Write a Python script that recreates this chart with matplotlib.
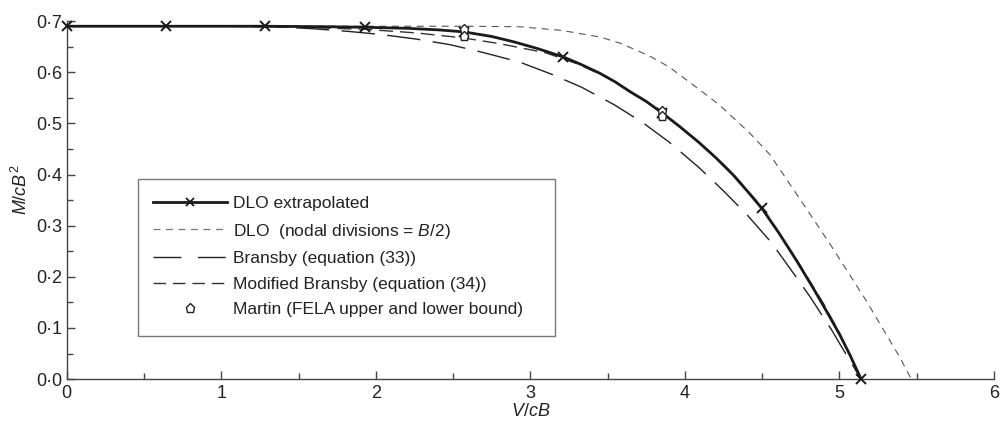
import matplotlib
matplotlib.use("Agg")
import matplotlib.pyplot as plt
from matplotlib.lines import Line2D
from matplotlib.patches import Rectangle
from matplotlib.ticker import MultipleLocator, FuncFormatter

plt.rcParams["font.family"] = ["Liberation Sans", "DejaVu Sans"]
plt.rcParams["mathtext.fontset"] = "custom"
plt.rcParams["mathtext.rm"] = "Liberation Sans"
plt.rcParams["mathtext.it"] = "Liberation Sans:italic"
plt.rcParams["lines.scale_dashes"] = False

# -----------------------------
# DATA
# -----------------------------
# DLO extrapolated: marker points
dlo_pts_v = [0.0, 0.643, 1.285, 1.928, 2.57, 3.213, 3.855, 4.498, 5.14]
dlo_pts_m = [0.690, 0.690, 0.690, 0.688, 0.679, 0.630, 0.520, 0.334, 0.0]

# DLO extrapolated: smooth curve
dlo_v = [0.0, 0.643, 1.285, 1.7, 1.928, 2.2, 2.4, 2.57, 2.75, 2.9, 3.05, 3.213,
         3.33, 3.45, 3.55, 3.64, 3.75, 3.855, 3.97, 4.09, 4.2, 4.31, 4.4,
         4.498, 4.61, 4.72, 4.83, 4.92, 5.0, 5.07, 5.14]
dlo_m = [0.690, 0.690, 0.690, 0.689, 0.688, 0.686, 0.683, 0.679, 0.670, 0.659,
         0.646, 0.630, 0.615, 0.598, 0.581, 0.563, 0.543, 0.520, 0.493, 0.463,
         0.433, 0.400, 0.369, 0.334, 0.285, 0.233, 0.178, 0.131, 0.088, 0.046,
         0.0]

# DLO (nodal divisions = B/2)
nodal_v = [0.0, 1.0, 2.0, 2.6, 2.93, 3.2, 3.45, 3.58, 3.77, 3.9, 4.09, 4.22,
           4.42, 4.55, 4.74, 4.8, 4.95, 5.17, 5.39, 5.465]
nodal_m = [0.690, 0.690, 0.690, 0.690, 0.689, 0.682, 0.669, 0.657, 0.632, 0.610,
           0.567, 0.537, 0.481, 0.439, 0.354, 0.327, 0.259, 0.155, 0.043, 0.0]

# Bransby (equation (33))
bransby_v = [0.0, 0.6, 1.0, 1.36, 1.6, 1.82, 2.03, 2.26, 2.48, 2.69, 2.93,
             3.13, 3.33, 3.54, 3.73, 3.9, 4.09, 4.25, 4.4, 4.56, 4.7, 4.81,
             4.95, 5.03, 5.14]
bransby_m = [0.690, 0.690, 0.690, 0.689, 0.685, 0.680, 0.674, 0.665, 0.654,
             0.639, 0.620, 0.597, 0.571, 0.537, 0.501, 0.463, 0.414, 0.368,
             0.322, 0.267, 0.208, 0.161, 0.096, 0.055, 0.0]

# Modified Bransby (equation (34))
mod_v = [0.0, 1.0, 1.5, 1.93, 2.26, 2.57, 2.8, 3.1, 3.3, 3.5, 3.7, 3.855,
         4.09, 4.31, 4.5, 4.72, 4.9, 5.0, 5.14]
mod_m = [0.690, 0.690, 0.688, 0.684, 0.677, 0.667, 0.656, 0.638, 0.617, 0.590,
         0.553, 0.520, 0.464, 0.402, 0.336, 0.235, 0.146, 0.090, 0.0]

# Martin (FELA upper and lower bound)
martin_v = [2.57, 2.57, 3.855, 3.855]
martin_m = [0.684, 0.670, 0.525, 0.514]

legend_labels = [
    "DLO extrapolated",
    "DLO  (nodal divisions = $B$/2)",
    "Bransby (equation (33))",
    "Modified Bransby (equation (34))",
    "Martin (FELA upper and lower bound)",
]

# -----------------------------
# STYLES
# -----------------------------
TEXT = "#222222"
AXIS = "#444444"
FS = 13
LEG_FS = 12.5
DASH_NODAL = (0, (5, 4))
DASH_BRANSBY = (0, (24, 9))
DASH_MOD = (0, (10, 5))


def fmt_dot(v, pos):
    return f"{v:.1f}".replace(".", "\u00b7")


fig = plt.figure(figsize=(10.02, 4.26), dpi=100)
ax = fig.add_axes([0.0666, 0.110, 0.9254, 0.8404])

ax.plot(nodal_v, nodal_m, color="#555555", lw=0.8, linestyle=DASH_NODAL)
ax.plot(bransby_v, bransby_m, color="#222222", lw=1.0, linestyle=DASH_BRANSBY)
ax.plot(mod_v, mod_m, color="#333333", lw=1.0, linestyle=DASH_MOD)
ax.plot(dlo_v, dlo_m, color="#1a1a1a", lw=2.0, solid_capstyle="butt")
ax.plot(dlo_pts_v, dlo_pts_m, linestyle="none", marker="x", ms=7, mew=1.4,
        color="#1a1a1a", clip_on=False, zorder=4)
ax.plot(martin_v, martin_m, linestyle="none", marker="p", ms=6.5, mew=1.0,
        mfc="white", mec="#222222", clip_on=False, zorder=5)

ax.set_xlim(0, 6)
ax.set_ylim(0, 0.7)
ax.xaxis.set_major_locator(MultipleLocator(1))
ax.xaxis.set_minor_locator(MultipleLocator(0.5))
ax.yaxis.set_major_locator(MultipleLocator(0.1))
ax.yaxis.set_minor_locator(MultipleLocator(0.05))
ax.yaxis.set_major_formatter(FuncFormatter(fmt_dot))

for s in ["top", "right"]:
    ax.spines[s].set_visible(False)
for s in ["left", "bottom"]:
    ax.spines[s].set_color(AXIS)
    ax.spines[s].set_linewidth(1.0)

ax.tick_params(which="both", direction="in", colors=AXIS, labelcolor=TEXT,
               labelsize=FS)
ax.tick_params(which="major", length=6, width=1.0)
ax.tick_params(which="minor", length=4, width=1.0)
ax.tick_params(axis="x", pad=4)
ax.tick_params(axis="y", pad=3)

ax.set_xlabel("$V/cB$", fontsize=FS, color=TEXT, labelpad=1)
ax.set_ylabel("$M/cB^2$", fontsize=FS, color=TEXT)
ax.yaxis.set_label_coords(-0.038, 0.53)

# legend
handles = [
    Line2D([], [], color="#1a1a1a", lw=2.0, marker="x", ms=6, mew=1.3),
    Line2D([], [], color="#777777", lw=0.9, linestyle=DASH_NODAL),
    Line2D([], [], color="#222222", lw=1.0, linestyle=(0, (20, 12))),
    Line2D([], [], color="#333333", lw=1.0, linestyle=(0, (9, 5))),
    Line2D([], [], linestyle="none", marker="p", ms=6.5, mew=1.0,
           mfc="white", mec="#222222"),
]
leg = ax.legend(handles, legend_labels, loc="upper left",
                bbox_to_anchor=(153 / 1002, 1 - 196 / 426),
                bbox_transform=fig.transFigure, frameon=False,
                fontsize=LEG_FS, numpoints=1, handlelength=4.26,
                handletextpad=0.35, labelspacing=0.6, borderpad=0,
                borderaxespad=0)
for t in leg.get_texts():
    t.set_color(TEXT)

fig.patches.append(Rectangle((138 / 1002, 1 - 336 / 426),
                             (555 - 138) / 1002, (336 - 179) / 426,
                             transform=fig.transFigure, fill=False,
                             edgecolor="#777777", lw=1.0))

fig.savefig("out.png", dpi=100)
